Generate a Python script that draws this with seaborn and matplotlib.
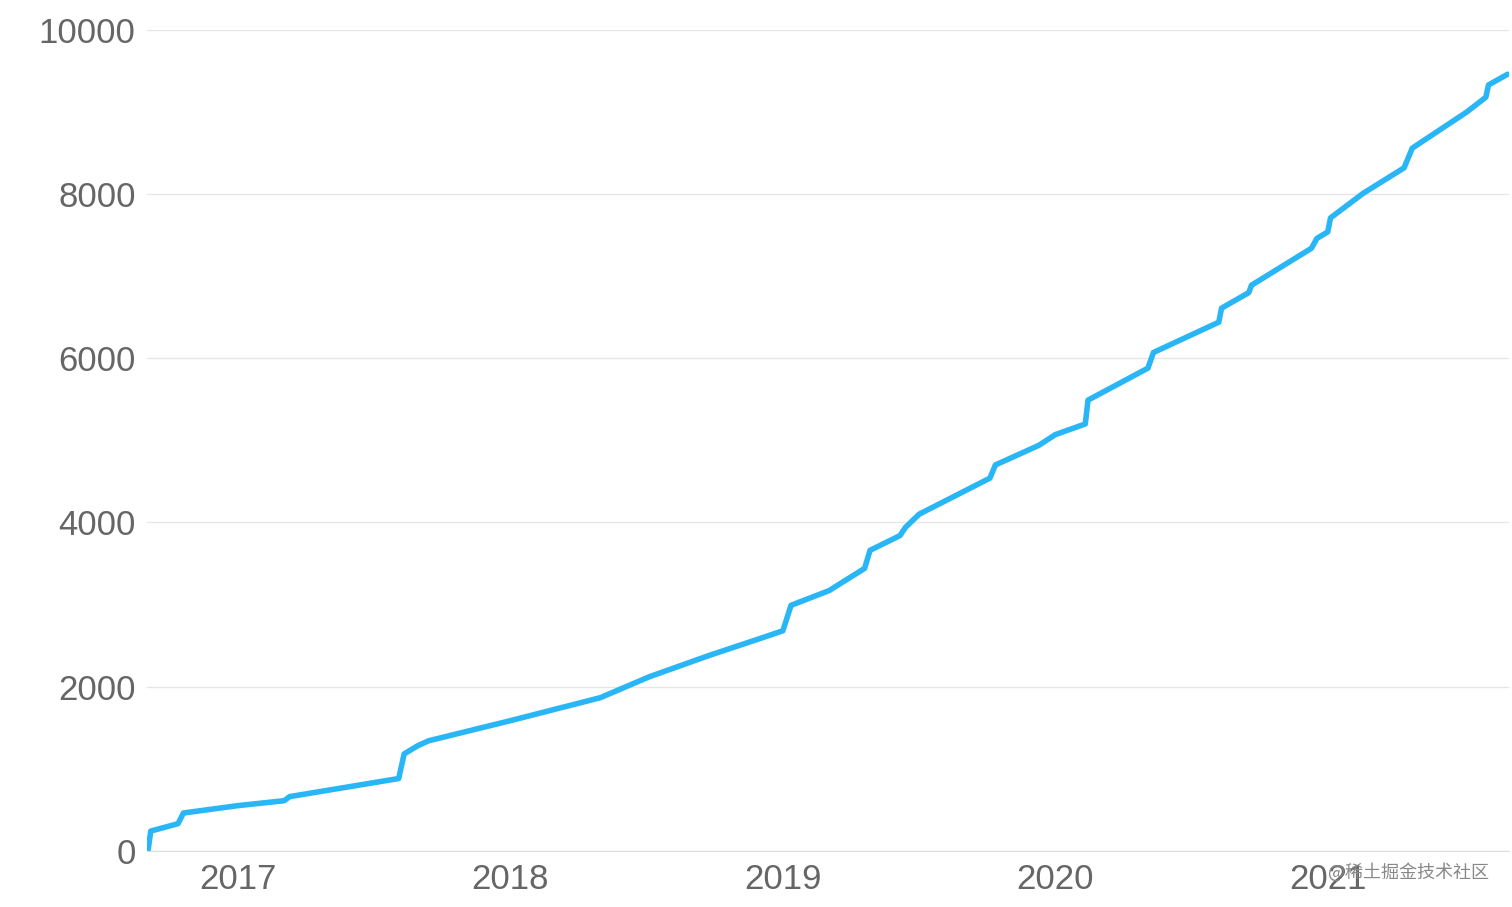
import pandas as pd
import matplotlib.pyplot as plt
import seaborn as sns

# decimal year vs cumulative count
years = [2016.67, 2016.68, 2016.78, 2016.80, 2017.00, 2017.17, 2017.19, 2017.59, 2017.61,
         2017.66, 2017.70, 2018.00, 2018.33, 2018.51, 2018.73, 2018.92, 2019.00, 2019.03,
         2019.17, 2019.30, 2019.32, 2019.43, 2019.45, 2019.50, 2019.50, 2019.76, 2019.78,
         2019.94, 2020.00, 2020.11, 2020.12, 2020.34, 2020.36, 2020.60, 2020.61, 2020.71,
         2020.72, 2020.94, 2020.96, 2021.00, 2021.01, 2021.13, 2021.28, 2021.31, 2021.51,
         2021.58, 2021.59, 2021.66]
counts = [0, 240, 330, 460, 550, 610, 660, 880, 1180, 1280, 1340, 1585, 1865, 2120, 2380,
          2590, 2680, 2990, 3170, 3440, 3660, 3840, 3940, 4050, 4150, 4540, 4700, 4940,
          5070, 5200, 5490, 5880, 6070, 6440, 6610, 6800, 6890, 7340, 7460, 7540, 7710,
          8010, 8320, 8560, 9000, 9180, 9330, 9460]
tick_years = [2017, 2018, 2019, 2020, 2021]

df = pd.DataFrame({"year": years, "count": counts})

sns.set_style("white")
plt.rcParams["font.family"] = ["Liberation Sans", "Noto Sans CJK SC", "DejaVu Sans"]

fig, ax = plt.subplots(figsize=(15.12, 9.07), dpi=100)
fig.subplots_adjust(left=0.097, right=0.998, top=0.967, bottom=0.062)
sns.lineplot(data=df, x="year", y="count", ax=ax, color="#29b6f6", linewidth=4)

ax.set_xlim(2016.665, 2021.665)
ax.set_ylim(0, 10000)
ax.set_yticks(range(0, 10001, 2000))
ax.set_xticks(tick_years)
ax.set_xticklabels([str(y) for y in tick_years])
ax.yaxis.grid(True, color="#e6e6e6", linewidth=1)
ax.set_xlabel("")
ax.set_ylabel("")
for s in ["top", "right", "left"]:
    ax.spines[s].set_visible(False)
ax.spines["bottom"].set_color("#dddddd")
ax.tick_params(axis="both", length=0, labelsize=25, labelcolor="#666666")
ax.tick_params(axis="x", pad=9)
ax.tick_params(axis="y", pad=8)

fig.text(0.985, 0.038, "@稀土掘金技术社区", ha="right", va="center", fontsize=13,
         color="#888888", family=["Noto Sans CJK SC", "DejaVu Sans"])

fig.savefig("out.png")
